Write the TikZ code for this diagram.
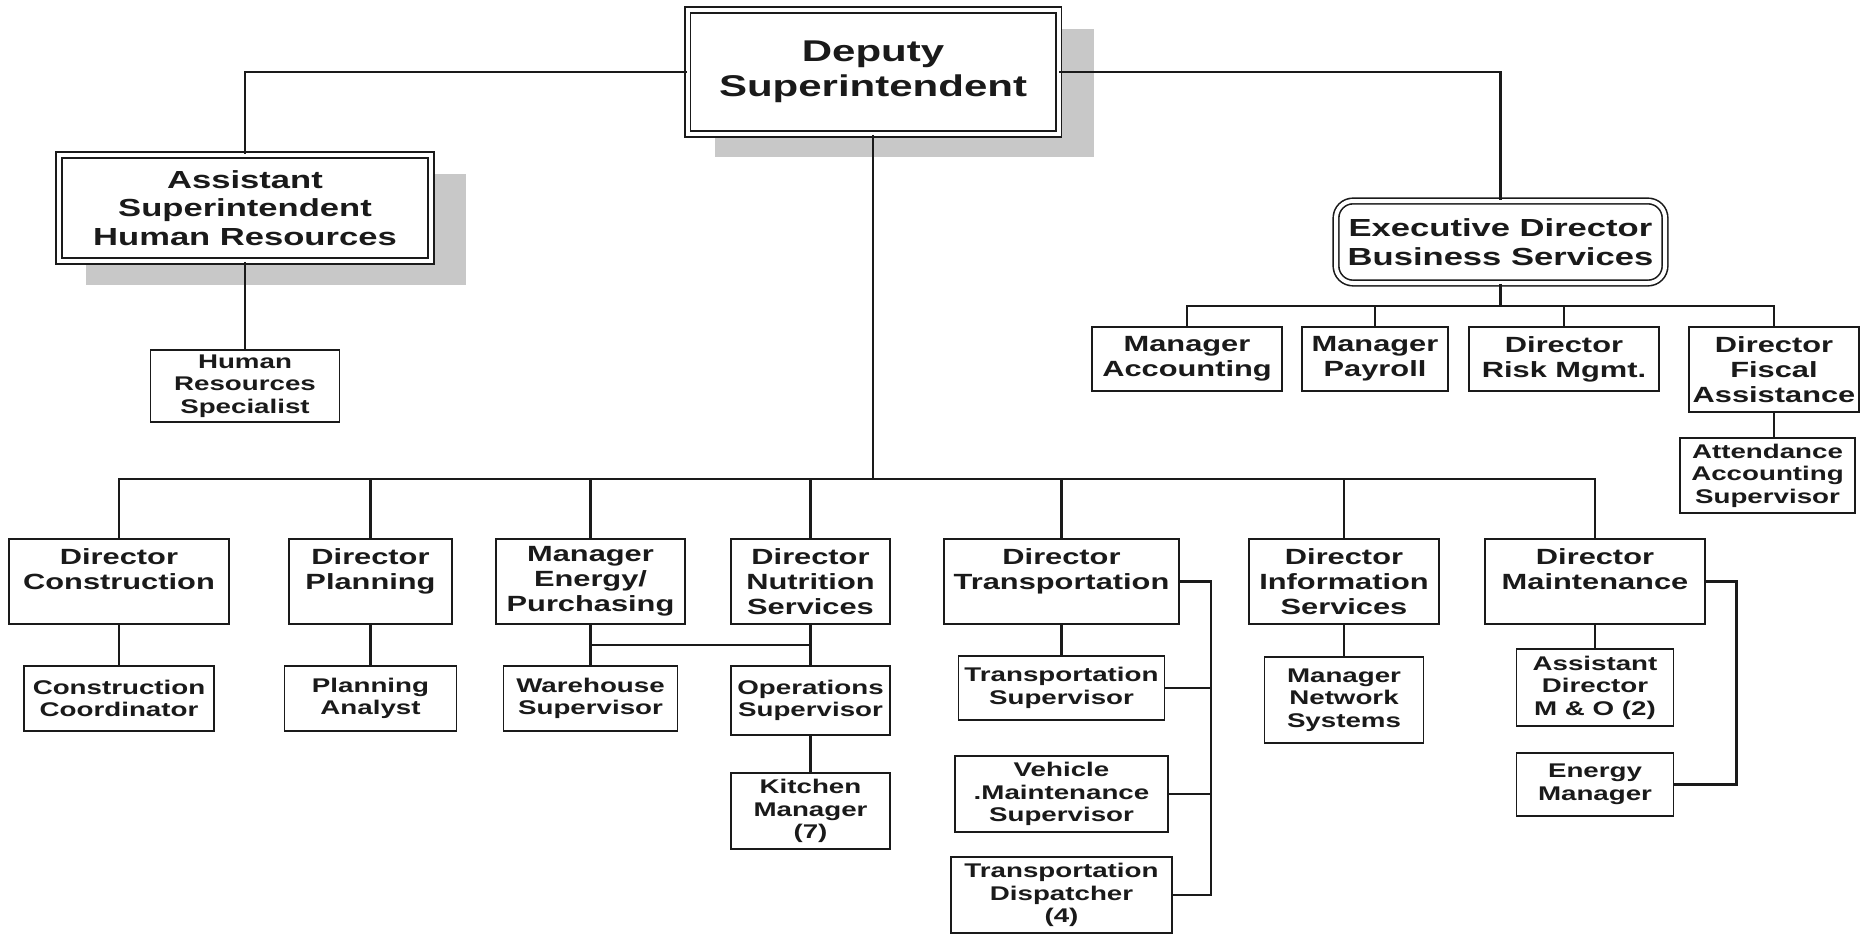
\documentclass[tikz,border=0pt]{standalone}
\usepackage{fontspec}
\newfontfamily\orgfont[FakeStretch=1.4]{Liberation Sans}
\definecolor{shadowgray}{HTML}{C8C8C8}
\definecolor{ink}{HTML}{1A1A1A}
\newcommand\fsA{\fontsize{30}{35}\selectfont}
\newcommand\fsL{\fontsize{24.7}{28.5}\selectfont}
\newcommand\fsM{\fontsize{22}{25}\selectfont}
\newcommand\fsS{\fontsize{19.8}{22.5}\selectfont}
\begin{document}
\begin{tikzpicture}[x=1pt,y=-1pt,
  box/.style={draw=ink, line width=1.8pt, fill=white, inner sep=0pt, align=center, text=ink},
  dbox/.style={box, double=white, double distance=4pt, line width=1.6pt},
  wh/.style 2 args={minimum width=#1pt, minimum height=#2pt},
  fA/.style={font=\orgfont\bfseries\fsA},
  fL/.style={font=\orgfont\bfseries\fsL},
  fM/.style={font=\orgfont\bfseries\fsM},
  fS/.style={font=\orgfont\bfseries\fsS},
  conn/.style={draw=ink, line width=2.2pt},
  shadowbox/.style={fill=shadowgray}
]
\useasboundingbox[fill=white] (0,0) rectangle (1860,935);

% shadows
\fill[shadowbox] (715,29) rectangle (1094,157);
\fill[shadowbox] (86,174) rectangle (466,285);

% top level
\node[dbox, fA, wh={371}{124}] (dep) at (873,72) {Deputy\\Superintendent};
\node[dbox, fL, wh={372}{106}] (asst) at (245,208) {Assistant\\Superintendent\\Human Resources};
\node[box, fS, wh={189}{72}] (hrs) at (245,386) {Human\\Resources\\Specialist};
\node[dbox, fL, wh={329}{82}, rounded corners=17pt] (exec) at (1500.5,242) {Executive Director\\Business Services};

% business services
\node[box, fM, wh={190}{64}] (acc) at (1187,359) {Manager\\Accounting};
\node[box, fM, wh={146}{64}] (pay) at (1375,359) {Manager\\Payroll};
\node[box, fM, wh={190}{64}] (risk) at (1564,359) {Director\\Risk Mgmt.};
\node[box, fM, wh={170}{85}] (fiscal) at (1774,369.5) {Director\\Fiscal\\Assistance};
\node[box, fS, wh={175}{75}] (att) at (1767.5,475.5) {Attendance\\Accounting\\Supervisor};

% directors row
\node[box, fM, wh={220}{85}] (dcon) at (119,581.5) {Director\\Construction\\\phantom{X}};
\node[box, fM, wh={163}{85}] (dpla) at (370.5,581.5) {Director\\Planning\\\phantom{X}};
\node[box, fM, wh={189}{85}] (mep) at (590.5,581.5) {Manager\\Energy/\\Purchasing};
\node[box, fM, wh={159}{85}] (dnut) at (810.5,581.5) {Director\\Nutrition\\Services};
\node[box, fM, wh={235}{85}] (dtra) at (1061.5,581.5) {Director\\Transportation\\\phantom{X}};
\node[box, fM, wh={190}{85}] (dis) at (1344,581.5) {Director\\Information\\Services};
\node[box, fM, wh={220}{85}] (dmai) at (1595,581.5) {Director\\Maintenance\\\phantom{X}};

% second row
\node[box, fS, wh={190}{65}] (ccoord) at (119,698.5) {Construction\\Coordinator};
\node[box, fS, wh={172}{65}] (pana) at (370.5,698.5) {Planning\\Analyst};
\node[box, fS, wh={174}{65}] (wsup) at (590.5,698.5) {Warehouse\\Supervisor};
\node[box, fS, wh={159}{69}] (osup) at (810.5,700.5) {Operations\\Supervisor};
\node[box, fS, wh={159}{76}] (kman) at (810.5,811) {Kitchen\\Manager\\(7)};
\node[box, fS, wh={206}{64}] (tsup) at (1061.5,688) {Transportation\\Supervisor};
\node[box, fS, wh={213}{76}] (vms) at (1061.5,794) {Vehicle\\.Maintenance\\Supervisor};
\node[box, fS, wh={221}{76}] (tdis) at (1061.5,895) {Transportation\\Dispatcher\\(4)};
\node[box, fS, wh={159}{86}] (mns) at (1344,700) {Manager\\Network\\Systems};
\node[box, fS, wh={157}{77}] (adm) at (1595,687.5) {Assistant\\Director\\M \& O (2)};
\node[box, fS, wh={157}{63}] (enm) at (1595,784.5) {Energy\\Manager};

% coordinates for buses
\coordinate (bus) at (873,479);
\coordinate (ebus) at (1500.5,306);
\coordinate (nlink) at (700,645);
\coordinate (tx) at (1211,700);
\coordinate (mx) at (1736.5,700);

% connectors
\draw[conn] (dep.west) -| (asst.north);
\draw[conn] (dep.east) -| (exec.north);
\draw[conn] (asst.south) -- (hrs.north);

\draw[conn] (exec.south) -- (ebus);
\draw[conn] (acc.north) -- (acc.north |- ebus) -- (fiscal.north |- ebus) -- (fiscal.north);
\draw[conn] (pay.north) -- (pay.north |- ebus);
\draw[conn] (risk.north) -- (risk.north |- ebus);
\draw[conn] (fiscal.south) -- (fiscal.south |- att.north);

\draw[conn] (dep.south) -- (bus);
\draw[conn] (dcon.north) -- (dcon.north |- bus) -- (dmai.north |- bus) -- (dmai.north);
\draw[conn] (dpla.north) -- (dpla.north |- bus);
\draw[conn] (mep.north) -- (mep.north |- bus);
\draw[conn] (dnut.north) -- (dnut.north |- bus);
\draw[conn] (dtra.north) -- (dtra.north |- bus);
\draw[conn] (dis.north) -- (dis.north |- bus);

\draw[conn] (dcon.south) -- (ccoord.north);
\draw[conn] (dpla.south) -- (pana.north);
\draw[conn] (mep.south) -- (wsup.north);
\draw[conn] (dnut.south) -- (osup.north);
\draw[conn] (mep.south |- nlink) -- (dnut.south |- nlink);
\draw[conn] (osup.south) -- (kman.north);

\draw[conn] (dtra.south) -- (tsup.north);
\draw[conn] (dtra.east) -| (tx |- tdis.east) -- (tdis.east);
\draw[conn] (tsup.east) -- (tx |- tsup.east);
\draw[conn] (vms.east) -- (tx |- vms.east);

\draw[conn] (dis.south) -- (mns.north);
\draw[conn] (dmai.south) -- (adm.north);
\draw[conn] (dmai.east) -| (mx |- enm.east) -- (enm.east);
\end{tikzpicture}
\end{document}
